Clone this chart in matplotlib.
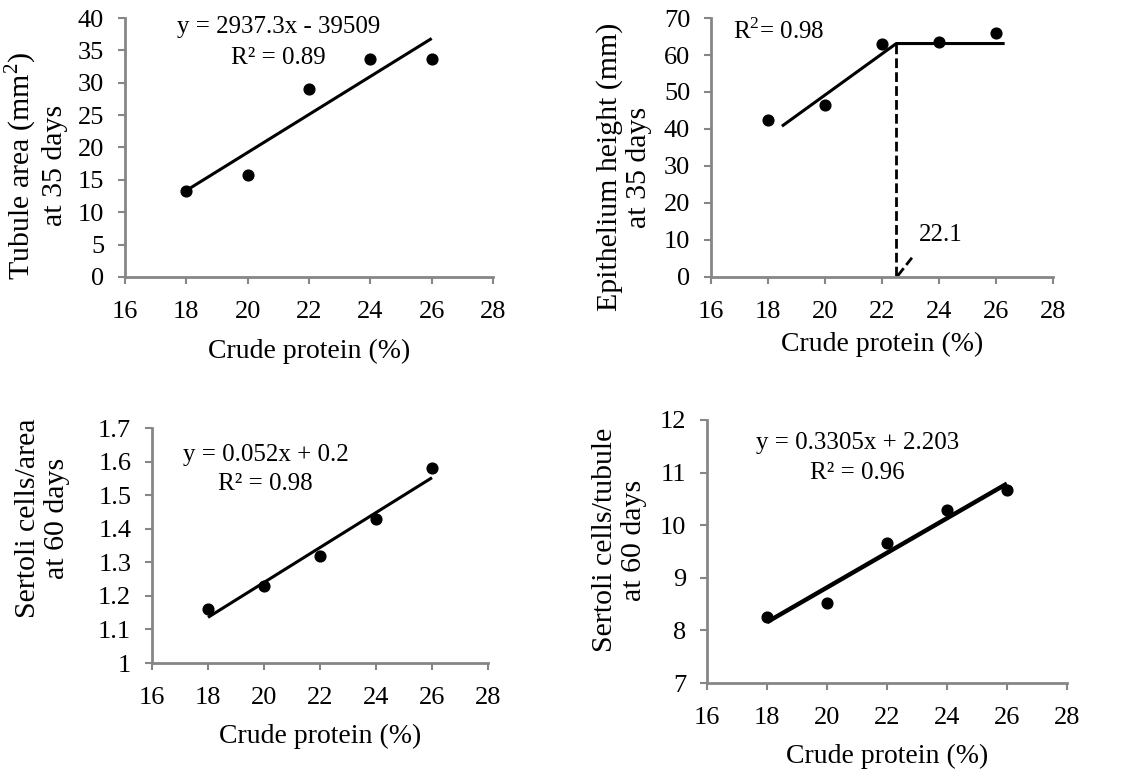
import numpy as np
import matplotlib
matplotlib.use('Agg')
import matplotlib.pyplot as plt

plt.rcParams['font.family'] = ['Liberation Serif', 'DejaVu Serif']
plt.rcParams['mathtext.fontset'] = 'custom'
plt.rcParams['mathtext.rm'] = 'Liberation Serif'

# data
cp = [18, 20, 22, 24, 26]
tubule_area = [13.3, 15.8, 29.0, 33.7, 33.7]
epith_height = [42.5, 46.5, 63.0, 63.5, 66.0]
sertoli_area = [1.16, 1.23, 1.32, 1.43, 1.58]
sertoli_tubule = [8.25, 8.52, 9.66, 10.28, 10.66]

# broken-line model for epithelium height
bl_x = [18.53, 22.5, 26.25]
bl_y = [41.0, 63.1, 63.1]
break_point = 22.5

GRAY = '#868686'
TICK = 19
LAB = 20
YLAB = 21.5
EQ = 18


def style(ax, ylim, yticks):
    ax.set_xlim(16, 28)
    ax.set_xticks(range(16, 29, 2))
    ax.set_ylim(*ylim)
    ax.set_yticks(yticks)
    for s in ['top', 'right']:
        ax.spines[s].set_visible(False)
    for s in ['left', 'bottom']:
        ax.spines[s].set_color(GRAY)
        ax.spines[s].set_linewidth(2)
    ax.tick_params(axis='both', colors=GRAY, labelcolor='black', labelsize=TICK,
                   length=5, width=1.5, direction='out')
    ax.tick_params(axis='x', pad=12)
    ax.tick_params(axis='y', pad=10)


def trend(ax, x, y, lw):
    k, b = np.polyfit(x, y, 1)
    xs = np.array([min(x), max(x)])
    ax.plot(xs, k * xs + b, color='black', lw=lw, solid_capstyle='butt', zorder=2)


fig = plt.figure(figsize=(11.21, 7.73), dpi=100)

# panel 1
ax1 = fig.add_axes([0.1115, 0.6417, 0.3283, 0.335])
style(ax1, (0, 40), range(0, 41, 5))
ax1.scatter(cp, tubule_area, s=60, color='black', zorder=3)
trend(ax1, cp, tubule_area, 2.2)
ax1.text(21.0, 38.6, 'y = 2937.3x - 39509', fontsize=EQ, ha='center', va='center')
ax1.text(21.0, 33.8, 'R² = 0.89', fontsize=EQ, ha='center', va='center')
ax1.set_xlabel('Crude protein (%)', fontsize=LAB, labelpad=12)
ax1.set_ylabel('Tubule area (mm$^2$)\nat 35 days', fontsize=YLAB, linespacing=1.15)
ax1.yaxis.set_label_coords(-0.155, 0.43)

# panel 2
ax2 = fig.add_axes([0.6343, 0.6417, 0.305, 0.335])
style(ax2, (0, 70), range(0, 71, 10))
ax2.scatter(cp, epith_height, s=60, color='black', zorder=3)
ax2.plot(bl_x, bl_y, color='black', lw=2.2, zorder=2)
ax2.plot([break_point, break_point], [bl_y[1], 0], color='black', lw=2,
         ls=(0, (3.5, 1.5)), zorder=2)
ax2.plot([22.55, 23.05], [0.3, 5.2], color='black', lw=2, ls=(0, (3.5, 1.5)))
ax2.text(16.77, 66.4, 'R$^2$= 0.98', fontsize=EQ, ha='left', va='center')
ax2.text(23.31, 11.4, '22.1', fontsize=EQ, ha='left', va='center')
ax2.set_xlabel('Crude protein (%)', fontsize=LAB, labelpad=7)
ax2.set_ylabel('Epithelium height (mm)\nat 35 days', fontsize=YLAB, linespacing=1.15)
ax2.yaxis.set_label_coords(-0.1725, 0.425)

# panel 3
ax3 = fig.add_axes([0.1356, 0.1423, 0.2997, 0.304])
style(ax3, (1, 1.7), np.round(np.arange(1, 1.71, 0.1), 1))
ax3.set_yticklabels(['1', '1.1', '1.2', '1.3', '1.4', '1.5', '1.6', '1.7'])
ax3.scatter(cp, sertoli_area, s=60, color='black', zorder=3)
trend(ax3, cp, sertoli_area, 2.2)
ax3.text(20.06, 1.619, 'y = 0.052x + 0.2', fontsize=EQ, ha='center', va='center')
ax3.text(20.06, 1.534, 'R² = 0.98', fontsize=EQ, ha='center', va='center')
ax3.set_xlabel('Crude protein (%)', fontsize=LAB, labelpad=11)
ax3.set_ylabel('Sertoli cells/area\nat 60 days', fontsize=YLAB, linespacing=1.15)
ax3.yaxis.set_label_coords(-0.244, 0.615)

# panel 4
ax4 = fig.add_axes([0.6307, 0.1164, 0.3211, 0.3403])
style(ax4, (7, 12), range(7, 13))
ax4.scatter(cp, sertoli_tubule, s=60, color='black', zorder=3)
trend(ax4, cp, sertoli_tubule, 3.2)
ax4.text(21.02, 11.56, 'y = 0.3305x + 2.203', fontsize=EQ, ha='center', va='center')
ax4.text(21.02, 10.99, 'R² = 0.96', fontsize=EQ, ha='center', va='center')
ax4.set_xlabel('Crude protein (%)', fontsize=LAB, labelpad=11)
ax4.set_ylabel('Sertoli cells/tubule\nat 60 days', fontsize=YLAB, linespacing=1.15)
ax4.yaxis.set_label_coords(-0.167, 0.544)

fig.savefig('out.png', dpi=100)
